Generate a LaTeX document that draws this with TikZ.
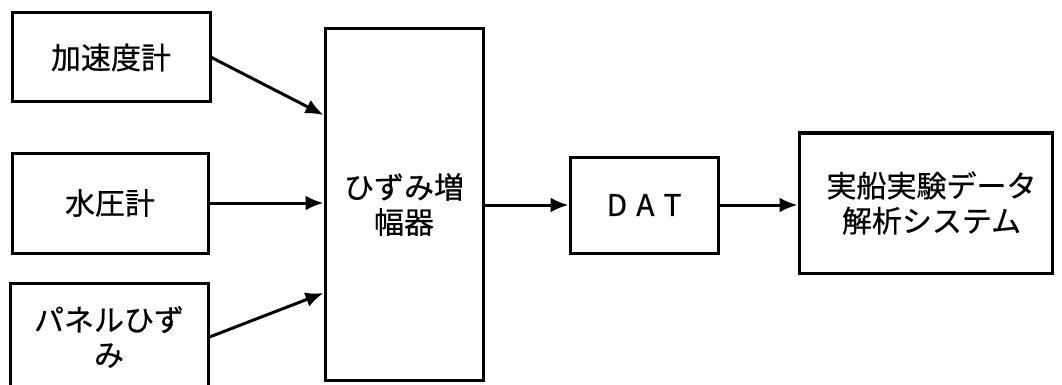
\documentclass[tikz,border=0pt]{standalone}
\usepackage{fontspec}
\newfontfamily\cjk[FakeBold=0.6]{Noto Sans CJK JP}
\usetikzlibrary{arrows.meta}
\begin{document}
\begin{tikzpicture}[x=1pt,y=-1pt,
  blk/.style={draw,line width=3pt,inner sep=0pt,align=center,
    font=\cjk\fontsize{30}{35}\selectfont},
  conn/.style={line width=3pt,-{Latex[length=18pt,width=15pt]}}]
\useasboundingbox (0,0) rectangle (1062,385);
\clip (0,0) rectangle (1062,385);
\node[blk,minimum width=198pt,minimum height=89pt] (acc) at (111,57.5) {加速度計};
\node[blk,minimum width=196pt,minimum height=100pt] (wp) at (110,203) {水圧計};
\node[blk,minimum width=198pt,minimum height=108pt] (pan) at (109,337) {パネルひず\\み};
\node[blk,minimum width=158pt,minimum height=351pt] (amp) at (404,204.5) {ひずみ増\\幅器};
\node[blk,minimum width=148pt,minimum height=96pt] (dat) at (644,205) {D\hspace{9pt}A\hspace{9pt}T};
\node[blk,minimum width=253pt,minimum height=140pt] (sys) at (925.5,203) {\hspace{12pt}実船実験データ\\\hspace{12pt}解析システム};
\coordinate (y1) at (0,115);
\coordinate (y3) at (0,293);
\draw[conn] (acc.east) -- (amp.west |- y1);
\draw[conn] (wp.east) -- (amp.west |- wp.east);
\draw[conn] (pan.east) -- (amp.west |- y3);
\draw[conn] (amp.east |- dat.west) -- (dat.west);
\draw[conn] (dat.east) -- (sys.west |- dat.east);
\end{tikzpicture}
\end{document}
